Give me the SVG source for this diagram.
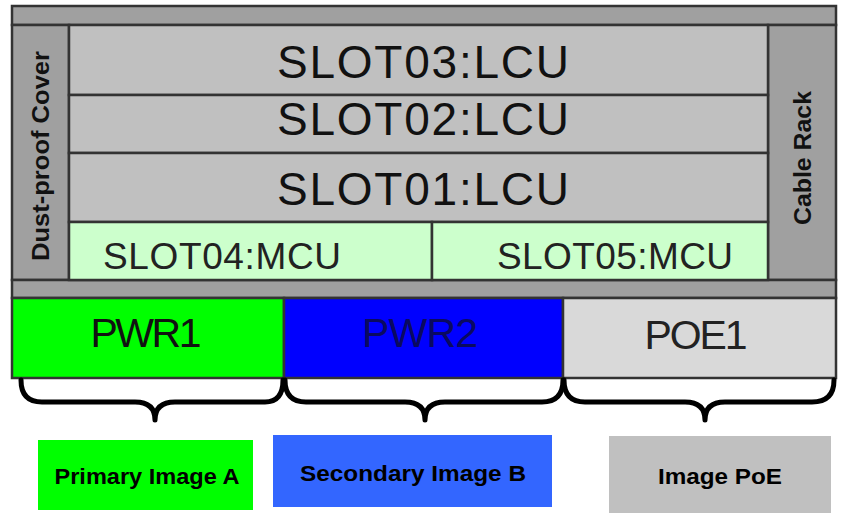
<svg xmlns="http://www.w3.org/2000/svg" width="841" height="513" viewBox="0 0 841 513">
<style>
.fr{stroke:#333;stroke-width:2.5}
.bar{fill:#a0a0a0}
.lcu{fill:#c0c0c0}
.mcu{fill:#ccffcc}
.big{font-family:"Liberation Sans",Arial,sans-serif;font-size:46px;fill:#111;text-anchor:middle}
.mid{font-family:"Liberation Sans",Arial,sans-serif;font-size:37px;fill:#222;text-anchor:middle}
.pw{font-family:"Liberation Sans",Arial,sans-serif;font-size:41px;text-anchor:middle}
.side{font-family:"Liberation Sans",Arial,sans-serif;font-size:24px;font-weight:bold;fill:#111;text-anchor:middle}
.lab{font-family:"Liberation Sans",Arial,sans-serif;font-size:22px;font-weight:bold;fill:#000;text-anchor:middle}
.br{fill:none;stroke:#000;stroke-width:5;stroke-linejoin:round;stroke-linecap:round}
</style>
<rect width="841" height="513" fill="#fff"/>
<g id="chassis">
<rect class="fr bar" x="12" y="6" width="824" height="19"/>
<rect class="fr bar" x="12" y="25" width="57" height="255"/>
<rect class="fr bar" x="768" y="25" width="68" height="255"/>
<rect class="fr bar" x="12" y="280" width="824" height="18"/>
</g>
<g id="dust-cover"><text class="side" transform="translate(49,156) rotate(-90)" textLength="210" lengthAdjust="spacingAndGlyphs">Dust-proof Cover</text></g>
<g id="cable-rack"><text class="side" transform="translate(811,158) rotate(-90)" textLength="134" lengthAdjust="spacingAndGlyphs">Cable Rack</text></g>
<g id="slot03"><rect class="fr lcu" x="69" y="25" width="699" height="70"/><text class="big" x="423" y="78" textLength="292" lengthAdjust="spacing">SLOT03:LCU</text></g>
<g id="slot02"><rect class="fr lcu" x="69" y="95" width="699" height="58"/><text class="big" x="423" y="135" textLength="292" lengthAdjust="spacing">SLOT02:LCU</text></g>
<g id="slot01"><rect class="fr lcu" x="69" y="153" width="699" height="69"/><text class="big" x="423" y="205" textLength="292" lengthAdjust="spacing">SLOT01:LCU</text></g>
<g id="slot04"><rect class="fr mcu" x="69" y="222" width="363" height="58"/><text class="mid" x="222" y="269" textLength="238" lengthAdjust="spacing">SLOT04:MCU</text></g>
<g id="slot05"><rect class="fr mcu" x="432" y="222" width="336" height="58"/><text class="mid" x="615" y="269" textLength="236" lengthAdjust="spacing">SLOT05:MCU</text></g>
<g id="pwr1"><rect class="fr" fill="#00ff00" x="12" y="298" width="272" height="80"/><text class="pw" x="146" y="347" fill="#111" textLength="111" lengthAdjust="spacing">PWR1</text></g>
<g id="pwr2"><rect class="fr" fill="#0000ff" x="284" y="298" width="279" height="80"/><text class="pw" x="420" y="347" fill="#0a0a60" textLength="116" lengthAdjust="spacing">PWR2</text></g>
<g id="poe1"><rect class="fr" fill="#d9d9d9" x="563" y="298" width="273" height="80"/><text class="pw" x="696" y="349" fill="#222" textLength="103" lengthAdjust="spacing">POE1</text></g>
<g id="connectors">
<path class="br" d="M21,380 Q21,402 42,402 L135,402 Q155,402 155,420 Q155,402 175,402 L265,402 Q283,402 283,380"/>
<path class="br" d="M285,380 Q285,402 306,402 L405,402 Q425,402 425,420 Q425,402 445,402 L542,402 Q563,402 563,380"/>
<path class="br" d="M564,380 Q564,402 585,402 L685,402 Q705,402 705,420 Q705,402 725,402 L812,402 Q834,402 834,380"/>
</g>
<g id="primary"><rect fill="#00ff00" x="38" y="440" width="215" height="70"/><text class="lab" x="147" y="484" textLength="185" lengthAdjust="spacingAndGlyphs">Primary Image A</text></g>
<g id="secondary"><rect fill="#3366ff" x="273" y="435" width="279" height="72"/><text class="lab" x="413" y="481" textLength="226" lengthAdjust="spacingAndGlyphs">Secondary Image B</text></g>
<g id="poe"><rect fill="#c0c0c0" x="609" y="436" width="222" height="77"/><text class="lab" x="720" y="484" textLength="124" lengthAdjust="spacingAndGlyphs">Image PoE</text></g>
</svg>
